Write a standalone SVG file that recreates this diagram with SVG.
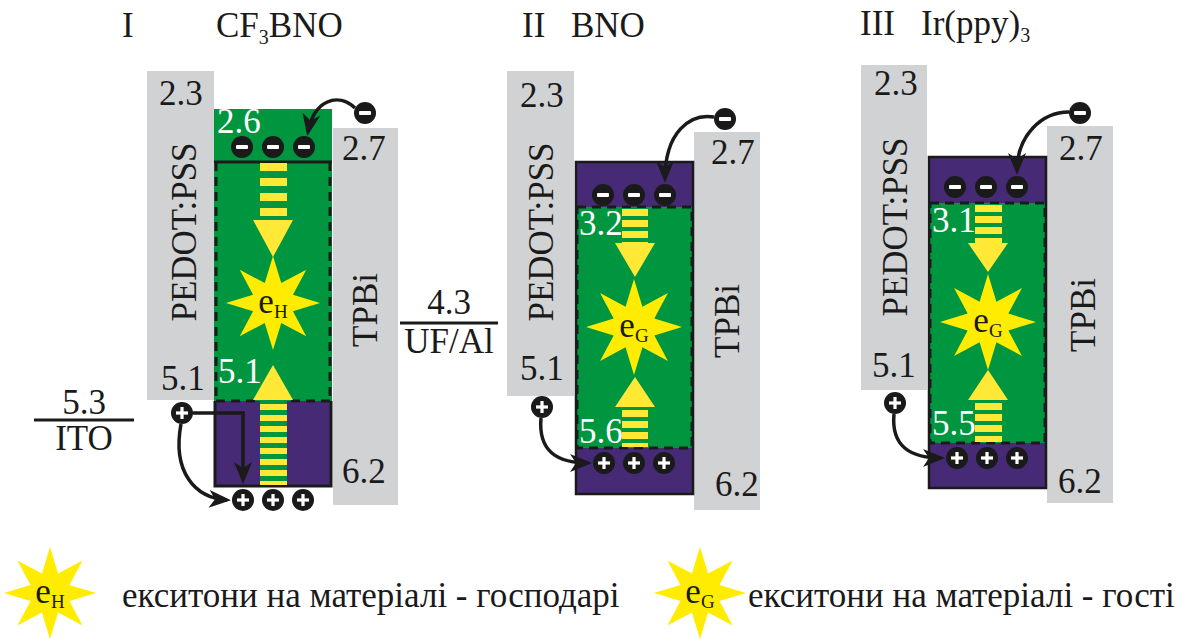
<svg xmlns="http://www.w3.org/2000/svg" xmlns:xlink="http://www.w3.org/1999/xlink" width="1193" height="641" viewBox="0 0 1193 641" font-family="'Liberation Serif','Times New Roman',serif">
<style>
.t{font-family:"Liberation Serif","Times New Roman",serif;font-size:35px;fill:#1a1a1a}
.w{font-family:"Liberation Serif","Times New Roman",serif;font-size:35px;fill:#ffffff}
.rot{font-family:"Liberation Serif","Times New Roman",serif;font-size:35px;fill:#1a1a1a}
.grey{fill:#d1d2d4}
.green{fill:#009640}
.purple{fill:#472a76}
.yel{fill:#ffe936}
.star{fill:#ffec00}
.dash{fill:none;stroke:#1a1a1a;stroke-width:3;stroke-dasharray:9 6}
.solid{fill:none;stroke:#1a1a1a;stroke-width:3}
.conn{fill:none;stroke:#1a1a1a;stroke-width:3.5}
.stripe{stroke:#ffe936;stroke-dasharray:7 4}
</style>
<defs>
<marker id="ah" viewBox="0 0 22 18" refX="18" refY="9" markerWidth="22" markerHeight="18" markerUnits="userSpaceOnUse" orient="auto">
<path d="M0,0 L22,9 L0,18 L6,9 z" fill="#1a1a1a"/>
</marker>
<polygon id="star" points="0,-48 8.42,-20.33 33.94,-33.94 20.33,-8.42 48,0 20.33,8.42 33.94,33.94 8.42,20.33 0,48 -8.42,20.33 -33.94,33.94 -20.33,8.42 -48,0 -20.33,-8.42 -33.94,-33.94 -8.42,-20.33"/>
<g id="minus"><circle r="11" fill="#1a1a1a"/><rect x="-6" y="-2" width="12" height="4" rx="1" fill="#fff"/></g>
<g id="plus"><circle r="11" fill="#1a1a1a"/><rect x="-6" y="-1.6" width="12" height="3.2" fill="#fff"/><rect x="-1.6" y="-6" width="3.2" height="12" fill="#fff"/></g>
</defs>

<g id="titles">
<text class="t" x="122" y="37">I</text>
<text class="t" x="216" y="37">CF<tspan font-size="20" dy="7">3</tspan><tspan dy="-7">BNO</tspan></text>
<text class="t" x="522" y="37">II</text>
<text class="t" x="571" y="37">BNO</text>
<text class="t" x="860" y="35">III</text>
<text class="t" x="921" y="35">Ir(ppy)<tspan font-size="20" dy="7">3</tspan></text>
</g>

<!-- Panel I -->
<g id="panel1-pedot">
<rect class="grey" x="147" y="71" width="67" height="329"/>
<text class="rot" transform="translate(196,232) rotate(-90)" text-anchor="middle">PEDOT:PSS</text>
<text class="t" x="159" y="105">2.3</text>
<text class="t" x="161" y="390">5.1</text>
</g>
<g id="panel1-tpbi">
<rect class="grey" x="333" y="128" width="65" height="377"/>
<text class="rot" transform="translate(377,310) rotate(-90)" text-anchor="middle">TPBi</text>
<text class="t" x="342" y="160">2.7</text>
<text class="t" x="342" y="483">6.2</text>
</g>
<g id="panel1-ito">
<line x1="34" y1="420" x2="134" y2="420" stroke="#1a1a1a" stroke-width="3"/>
<text class="t" x="84" y="414" text-anchor="middle">5.3</text>
<text class="t" x="84" y="450" text-anchor="middle">ITO</text>
</g>
<g id="panel1-emitter">
<rect class="green" x="214" y="109" width="118" height="292"/>
<rect class="purple" x="215" y="401" width="116" height="85"/>
<line class="solid" x1="214" y1="162" x2="332" y2="162"/>
<path class="dash" d="M216,162 V401 M330,162 V401 M216,401 H330"/>
<path class="solid" d="M215,401 V486 H331 V401"/>
<text class="w" x="217" y="133">2.6</text>
<text class="w" x="218" y="383">5.1</text>
<rect class="green" x="260" y="163" width="27" height="57"/>
<line class="stripe" x1="273.5" y1="163" x2="273.5" y2="220" stroke-width="27" style="stroke-dasharray:8 7"/>
<polygon class="yel" points="253,220 293,220 273,257"/>
<rect class="green" x="260" y="400" width="27" height="85"/>
<line class="stripe" x1="273.5" y1="404" x2="273.5" y2="485" stroke-width="27" style="stroke-dasharray:6 5"/>
<polygon class="yel" points="253,400 293,400 273,365"/>
<use xlink:href="#star" class="star" transform="translate(273,303) scale(0.98)"/>
<text class="t" x="273" y="313" text-anchor="middle" font-size="37">e<tspan font-size="19" dy="5">H</tspan></text>
<use xlink:href="#minus" x="242" y="147"/>
<use xlink:href="#minus" x="273" y="147"/>
<use xlink:href="#minus" x="304" y="147"/>
<use xlink:href="#plus" x="243" y="500"/>
<use xlink:href="#plus" x="273" y="500"/>
<use xlink:href="#plus" x="303" y="500"/>
</g>
<g id="panel1-carriers">
<use xlink:href="#minus" x="365" y="113"/>
<use xlink:href="#plus" x="182" y="413"/>
</g>

<!-- Panel II -->
<g id="panel2-pedot">
<rect class="grey" x="507" y="71" width="67" height="325"/>
<text class="rot" transform="translate(553,232) rotate(-90)" text-anchor="middle">PEDOT:PSS</text>
<text class="t" x="520" y="107">2.3</text>
<text class="t" x="520" y="380">5.1</text>
</g>
<g id="panel2-tpbi">
<rect class="grey" x="694" y="132" width="66" height="378"/>
<text class="rot" transform="translate(739,321) rotate(-90)" text-anchor="middle">TPBi</text>
<text class="t" x="711" y="164">2.7</text>
<text class="t" x="715" y="496">6.2</text>
</g>
<g id="panel2-cathode">
<line x1="400" y1="323" x2="498" y2="323" stroke="#1a1a1a" stroke-width="3"/>
<text class="t" x="449" y="314" text-anchor="middle">4.3</text>
<text class="t" x="449" y="353" text-anchor="middle">UF/Al</text>
</g>
<g id="panel2-emitter">
<rect class="purple" x="576" y="162" width="117" height="332"/>
<rect class="green" x="577" y="207" width="115" height="241"/>
<rect class="solid" x="576" y="162" width="117" height="332" style="stroke-width:2.5"/>
<rect class="dash" x="577" y="207" width="115" height="241"/>
<rect class="green" x="622" y="208" width="26" height="35"/>
<line class="stripe" x1="635" y1="209" x2="635" y2="243" stroke-width="26"/>
<polygon class="yel" points="615,243 655,243 635,277"/>
<rect class="green" x="622" y="407" width="26" height="40"/>
<line class="stripe" x1="635" y1="410" x2="635" y2="447" stroke-width="26"/>
<polygon class="yel" points="615,407 655,407 635,377"/>
<use xlink:href="#star" class="star" transform="translate(634,327)"/>
<text class="t" x="634" y="337" text-anchor="middle" font-size="37">e<tspan font-size="19" dy="5">G</tspan></text>
<text class="w" x="579" y="235">3.2</text>
<text class="w" x="579" y="443">5.6</text>
<use xlink:href="#minus" x="603" y="195"/>
<use xlink:href="#minus" x="634" y="195"/>
<use xlink:href="#minus" x="665" y="195"/>
<use xlink:href="#plus" x="604" y="463"/>
<use xlink:href="#plus" x="634" y="463"/>
<use xlink:href="#plus" x="664" y="463"/>
</g>
<g id="panel2-carriers">
<use xlink:href="#minus" x="725" y="119"/>
<use xlink:href="#plus" x="542" y="407"/>
</g>

<!-- Panel III -->
<g id="panel3-pedot">
<rect class="grey" x="861" y="65" width="66" height="325"/>
<text class="rot" transform="translate(907,227) rotate(-90)" text-anchor="middle">PEDOT:PSS</text>
<text class="t" x="874" y="95">2.3</text>
<text class="t" x="872" y="377">5.1</text>
</g>
<g id="panel3-tpbi">
<rect class="grey" x="1047" y="126" width="66" height="377"/>
<text class="rot" transform="translate(1095,315) rotate(-90)" text-anchor="middle">TPBi</text>
<text class="t" x="1059" y="160">2.7</text>
<text class="t" x="1058" y="493">6.2</text>
</g>
<g id="panel3-emitter">
<rect class="purple" x="929" y="157" width="117" height="331"/>
<rect class="green" x="930" y="203" width="115" height="240"/>
<rect class="solid" x="929" y="157" width="117" height="331" style="stroke-width:2.5"/>
<rect class="dash" x="930" y="203" width="115" height="240"/>
<rect class="green" x="975" y="204" width="27" height="39"/>
<line class="stripe" x1="988.5" y1="205" x2="988.5" y2="243" stroke-width="27"/>
<polygon class="yel" points="968,243 1008,243 988,272"/>
<rect class="green" x="975" y="400" width="27" height="42"/>
<line class="stripe" x1="988.5" y1="403" x2="988.5" y2="442" stroke-width="27"/>
<polygon class="yel" points="968,400 1008,400 988,370"/>
<use xlink:href="#star" class="star" transform="translate(988,322)"/>
<text class="t" x="988" y="332" text-anchor="middle" font-size="37">e<tspan font-size="19" dy="5">G</tspan></text>
<text class="w" x="932" y="232">3.1</text>
<text class="w" x="932" y="435">5.5</text>
<use xlink:href="#minus" x="955" y="187"/>
<use xlink:href="#minus" x="986" y="187"/>
<use xlink:href="#minus" x="1017" y="187"/>
<use xlink:href="#plus" x="957" y="458"/>
<use xlink:href="#plus" x="987" y="458"/>
<use xlink:href="#plus" x="1017" y="458"/>
</g>
<g id="panel3-carriers">
<use xlink:href="#minus" x="1080" y="113"/>
<use xlink:href="#plus" x="895" y="403"/>
</g>

<g id="connectors">
<path class="conn" d="M355,108 C338,92 314,100 308,132" marker-end="url(#ah)"/>
<path class="conn" d="M193,413 H243 V480" marker-end="url(#ah)"/>
<path class="conn" d="M181,424 C172,472 195,498 227,500" marker-end="url(#ah)"/>
<path class="conn" d="M714,117 C690,113 665,132 665,179" marker-end="url(#ah)"/>
<path class="conn" d="M541,418 C538,452 558,463 588,463" marker-end="url(#ah)"/>
<path class="conn" d="M1069,112 C1042,112 1017,135 1017,171" marker-end="url(#ah)"/>
<path class="conn" d="M894,414 C891,446 910,458 941,458" marker-end="url(#ah)"/>
</g>

<g id="legend-host">
<use xlink:href="#star" class="star" transform="translate(50,593) scale(0.96)"/>
<text class="t" x="50" y="603" text-anchor="middle" font-size="37">e<tspan font-size="19" dy="5">H</tspan></text>
<text class="t" x="122" y="607" font-size="35.5">екситони на матеріалі - господарі</text>
</g>
<g id="legend-guest">
<use xlink:href="#star" class="star" transform="translate(700,593) scale(0.96)"/>
<text class="t" x="700" y="603" text-anchor="middle" font-size="37">e<tspan font-size="19" dy="5">G</tspan></text>
<text class="t" x="748" y="607" font-size="35.5">екситони на матеріалі - гості</text>
</g>
</svg>
